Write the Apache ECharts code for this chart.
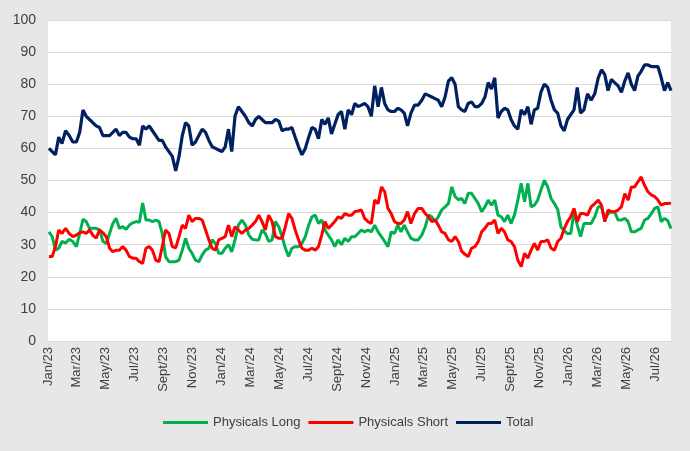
<!DOCTYPE html>
<html>
<head>
<meta charset="utf-8">
<script src="https://cdn.jsdelivr.net/npm/echarts@6/dist/echarts.min.js"></script>
<style>
html,body{margin:0;padding:0;background:#e7e7e7;}
#c{width:690px;height:451px;}
</style>
</head>
<body>
<div id="c"></div>
<script>
// Weekly observations starting 3 Jan 2023
const startDate = [2023, 0, 3];
const monthNames = ['Jan','Feb','Mar','Apr','May','Jun','Jul','Aug','Sept','Oct','Nov','Dec'];
const seriesNames = ['Physicals Long', 'Physicals Short', 'Total'];

const physicalsLong = [
34,32.5,28.3,28.9,31,30.5,31.7,31,29.4,33.5,37.9,37.2,35.1,35.1,35.1,34.6,31,30.4,33.5,36.6,38.2,35.1,35.6,34.8,36.1,36.8,37.2,37,43,37.7,37.7,37.2,
37.7,37.2,33.5,26.3,24.7,24.7,24.7,25.2,28.3,32,28.9,27.3,25.2,24.7,26.8,28.3,28.9,31.5,30.4,27.3,27.3,28.9,30,27.8,31.5,36.1,37.7,36.1,33,31.7,31.5,
31.5,34.6,33.5,31,31.5,37.2,35.6,32.5,28.9,26.3,28.9,29.4,29.4,30.4,32.5,36.1,38.7,39.2,36.6,37.7,34.6,33,31.5,29.4,31.5,30,32,31,32.5,32.5,33.5,
34.6,34,34.6,34,36.1,34,32.5,31,29.4,34,33.5,36.1,34,36.1,34,32,31.5,31.5,33,35.6,39.2,38.7,37.2,38.7,40.8,41.8,42.8,48,45,
44,44.4,42.8,46,46,44.4,42.8,40.3,41.8,43.9,42.3,43.9,39.2,38.7,37.2,39.2,36.6,39.2,43.9,49.1,43.4,49.1,41.8,42.3,43.9,47,50.1,48,44.4,42.8,41,35.5,34.3,
33.5,33.5,40.2,36.1,32.5,36.6,36.6,36.6,38.7,41.8,41.8,37.7,39.7,40.2,40.2,37.7,37.7,38.2,37.2,34,34,34.6,35.1,37.7,38.2,39.7,41.3,41.8,37.2,38.2,37.5,35
];

const physicalsShort = [
26.3,26.3,29.4,34.6,33.5,35.1,33.5,32.5,33,33.7,34,33.5,34.6,33,32,34.6,33.7,32.5,28.9,27.8,28.3,28.3,29.4,28.3,26.3,25.8,25.8,24.7,24.2,28.9,29.4,28.3,
25.2,24.7,29.4,34.6,33.5,29.4,29,32.5,36.1,35.1,39.2,37.2,38.2,38.2,37.7,34.6,31.5,28.9,28.3,31.5,32,32.5,36.1,32.5,35.6,34.6,33.5,34.6,35.1,36.1,37.2,
39.2,37.2,34.6,39.2,37.2,32.5,32,32,35.6,39.7,38.2,34.6,31.5,28.9,28.3,28.3,28.9,28.3,29.4,33,37.2,35.1,36.1,37.2,38.7,38.2,39.7,39.2,39.2,40.3,40.5,
40.8,38.2,37.2,36.6,43.9,42.8,48,46.5,41.3,39.7,37.2,36.6,36.6,37.7,40.3,36.6,39.7,41.3,41.3,39.7,38.7,37.2,37.7,36.1,34,33.5,31.5,31,32.5,
31,28,27,26.3,28.9,29.4,31,34,35.1,36.6,36.6,37.7,33.5,35.1,34,31.5,31,29.4,25.2,23.2,27.3,25.8,28.3,30.4,28.3,31,31,31.5,28.9,28.3,31,32,35,
37.2,38.7,41.3,37.2,39.7,39.7,39.2,41.8,42.8,43.9,42.3,37.2,40.8,40.3,40.3,40.8,41.8,45.9,43.9,48,48,49.6,51.1,48.5,46.5,45.5,45,43.9,42.3,42.8,42.8,43
];

const totalValues = [
60,59,58,63.5,61.5,65.5,64,62,62,65,72,70,69,68,67,66.5,64,64,64,65,66,64,65,65,63.5,63,63,61,67,66,67,65.5,
64,62.5,62.5,60.5,59,57.5,53,57.5,64,68,67,61,62,64,66,65,62.5,60.5,60,59.5,59,60.5,66,59,70,73,71.5,70,68,67,69,
70,69,68,68,68,69,68.5,65.5,66,66,66.5,63.5,60.5,58,60,63.5,66.5,66,63,69,67.5,69.5,64.5,67.5,70.5,71.5,66,72,70.5,74,73,
73.5,74,73,70,79.5,73,79,74,72,71.5,71.5,72.5,72,71,67,71,73.5,73.5,75,77,76.5,76,75.5,75,73,76,81,82,80,
73,72,71.5,74,74.5,73,73,74,76,80.5,78.5,82,69.5,71.5,72.5,72,69,67,66,72,70.5,73,67.5,72,72.5,77.5,80,79,75,72,71,67,65.5,
69,70.5,72,79,71,72,77,75,77,82,84.5,83,78,81.5,80.5,79.5,77.5,81,83.5,80,78,82.5,84,86,86,85.5,85.5,85.5,82,78,80.5,78
];

const yTicks = {min: 0, max: 100, interval: 10};

// convert each weekly date to a fractional month position (0 = Jan 2023)
function monthPos(i) {
  const d = new Date(startDate[0], startDate[1], startDate[2] + 7 * i);
  const dim = new Date(d.getFullYear(), d.getMonth() + 1, 0).getDate();
  return (d.getFullYear() - startDate[0]) * 12 + d.getMonth() + (d.getDate() - 1) / dim;
}
const xPos = totalValues.map((_, i) => monthPos(i));
const lastX = xPos[xPos.length - 1];
function pairs(arr) { return arr.map((v, i) => [xPos[i], v]); }

const colors = ['#00b050', '#ff0000', '#002060'];
const font = 'Liberation Sans, Arial, sans-serif';

const chart = echarts.init(document.getElementById('c'));
chart.setOption({
  backgroundColor: '#e7e7e7',
  animation: false,
  color: colors,
  grid: {left: 48, right: 19, top: 20, bottom: 110, show: true, backgroundColor: '#ffffff', borderWidth: 0},
  legend: {
    bottom: 17, left: 158,
    itemWidth: 45, itemHeight: 3, itemGap: 8,
    icon: 'rect',
    textStyle: {fontFamily: font, fontSize: 13, color: '#404040'},
    data: seriesNames
  },
  xAxis: {
    type: 'value', min: 0, max: lastX, interval: 2,
    axisLine: {show: true, lineStyle: {color: '#d9d9d9', width: 1}},
    axisTick: {show: true, length: 5, lineStyle: {color: '#d9d9d9'}},
    splitLine: {show: false},
    axisLabel: {
      rotate: 90, fontFamily: font, fontSize: 13, color: '#404040', margin: 6,
      showMaxLabel: false,
      formatter: function (v) {
        const m = Math.round(v);
        if (Math.abs(v - m) > 1e-6) return '';
        const yr = startDate[0] + Math.floor(m / 12);
        return monthNames[m % 12] + '/' + String(yr).slice(2);
      }
    }
  },
  yAxis: {
    type: 'value', min: yTicks.min, max: yTicks.max, interval: yTicks.interval,
    axisLine: {show: false}, axisTick: {show: false},
    splitLine: {lineStyle: {color: '#d9d9d9', width: 1}},
    axisLabel: {fontFamily: font, fontSize: 14, color: '#404040', margin: 12}
  },
  series: [
    {name: seriesNames[0], type: 'line', data: pairs(physicalsLong), symbol: 'none', lineStyle: {width: 3}},
    {name: seriesNames[1], type: 'line', data: pairs(physicalsShort), symbol: 'none', lineStyle: {width: 3}},
    {name: seriesNames[2], type: 'line', data: pairs(totalValues), symbol: 'none', lineStyle: {width: 3.2}}
  ]
});
</script>
</body>
</html>
